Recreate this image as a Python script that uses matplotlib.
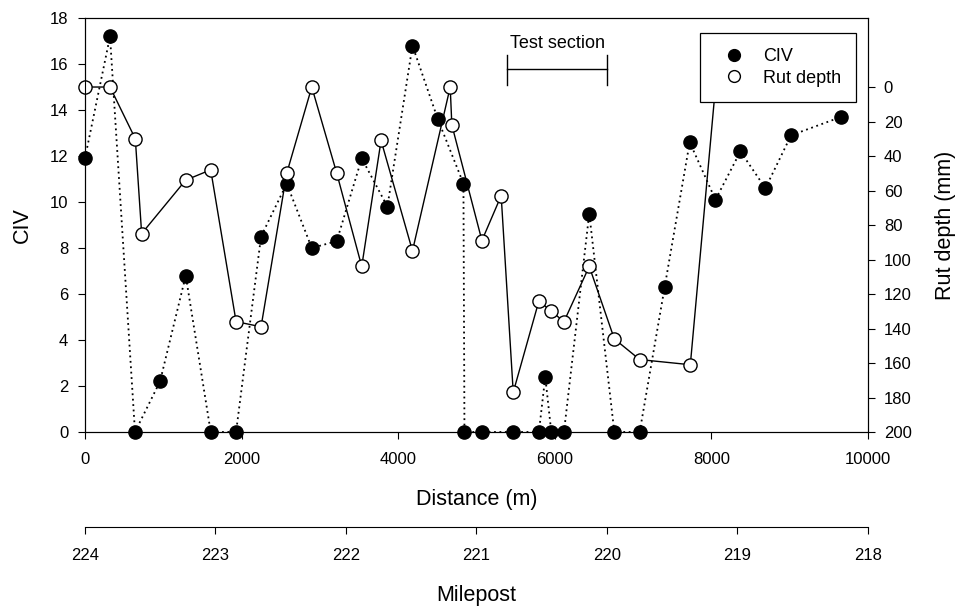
import matplotlib.pyplot as plt

plt.rcParams['font.family'] = ['Liberation Sans', 'DejaVu Sans']

# CIV along the section
civ_dist = [0, 320, 639, 959, 1287, 1606, 1930, 2249, 2577, 2897, 3216, 3535,
            3863, 4183, 4507, 4834, 4847, 5070, 5470, 5798, 5879, 5956, 6118,
            6441, 6761, 7085, 7404, 7724, 8053, 8372, 8691, 9019, 9658]
civ = [11.9, 17.2, 0, 2.2, 6.8, 0, 0, 8.5, 10.8, 8.0, 8.3, 11.9,
       9.8, 16.8, 13.6, 10.8, 0, 0, 0, 0, 2.4, 0, 0,
       9.5, 0, 0, 6.3, 12.6, 10.1, 12.2, 10.6, 12.9, 13.7]

# rut depth (mm)
rut_dist = [0, 320, 643, 724, 1286, 1606, 1930, 2249, 2577, 2897, 3216, 3535,
            3782, 4183, 4665, 4686, 5070, 5316, 5470, 5798, 5956, 6118, 6441,
            6761, 7085, 7732, 8053]
rut = [0, 0, 30, 85, 54, 48, 136, 139, 50, 0, 50, 104,
       31, 95, 0, 22, 89, 63, 177, 124, 130, 136, 104,
       146, 158, 161, 0]

test_start, test_end = 5390, 6670
mp_ticks = [224, 223, 222, 221, 220, 219, 218]

fig, ax = plt.subplots(figsize=(9.59, 6.07), dpi=100)
fig.subplots_adjust(left=0.0886, right=0.905, top=0.9703, bottom=0.2883)

l1, = ax.plot(civ_dist, civ, color='black', linestyle=(0, (1, 2)), lw=1.3,
              marker='o', ms=9.5, mfc='black', mec='black', label='CIV',
              clip_on=False)
ax.set_xlim(0, 10000)
ax.set_ylim(0, 18)
ax.set_xticks(range(0, 10001, 2000))
ax.set_yticks(range(0, 19, 2))
ax.set_xlabel('Distance (m)', fontsize=15.5, labelpad=15.5)
ax.set_ylabel('CIV', fontsize=15.5, labelpad=12)
ax.tick_params(axis='both', direction='out', length=5, width=0.8, labelsize=12)
ax.tick_params(axis='x', pad=9.5)
ax.tick_params(axis='y', pad=7)

ax2 = ax.twinx()
l2, = ax2.plot(rut_dist, rut, color='black', lw=1.0, marker='o', ms=9.5,
               mfc='white', mec='black', mew=1.0, label='Rut depth',
               clip_on=False)
ax2.set_ylim(200, -40)
ax2.set_yticks(range(0, 201, 20))
ax2.set_ylabel('Rut depth (mm)', fontsize=15.5, labelpad=17)
ax2.tick_params(axis='y', direction='out', length=5, width=0.8, labelsize=12, pad=6.5)

# test section bracket
ax.plot([test_start, test_end], [15.77, 15.77], color='black', lw=1)
for xx in (test_start, test_end):
    ax.plot([xx, xx], [15.1, 16.4], color='black', lw=1)
ax.text((test_start + test_end) / 2, 16.9, 'Test section', ha='center',
        va='center', fontsize=13)

leg = ax2.legend([l1, l2], ['CIV', 'Rut depth'], loc='upper right',
                 bbox_to_anchor=(0.985, 0.964), fontsize=13, fancybox=False,
                 framealpha=1, edgecolor='black', borderpad=0.85,
                 labelspacing=0.25, handlelength=2.05, handletextpad=0.55,
                 borderaxespad=0)
for h in leg.legend_handles:
    h.set_linestyle('none')
    h.set_markersize(8.5)
leg.get_frame().set_linewidth(0.9)

# milepost scale under the distance axis
mp = ax.secondary_xaxis(-0.23, functions=(lambda d: 224 - d * 0.0006,
                                          lambda m: (224 - m) / 0.0006))
mp.set_xticks(mp_ticks)
mp.tick_params(direction='out', length=5, width=0.8, labelsize=12, pad=10)
mp.set_xlabel('Milepost', fontsize=15.5, labelpad=15.5)

plt.savefig('out.png', dpi=100)
